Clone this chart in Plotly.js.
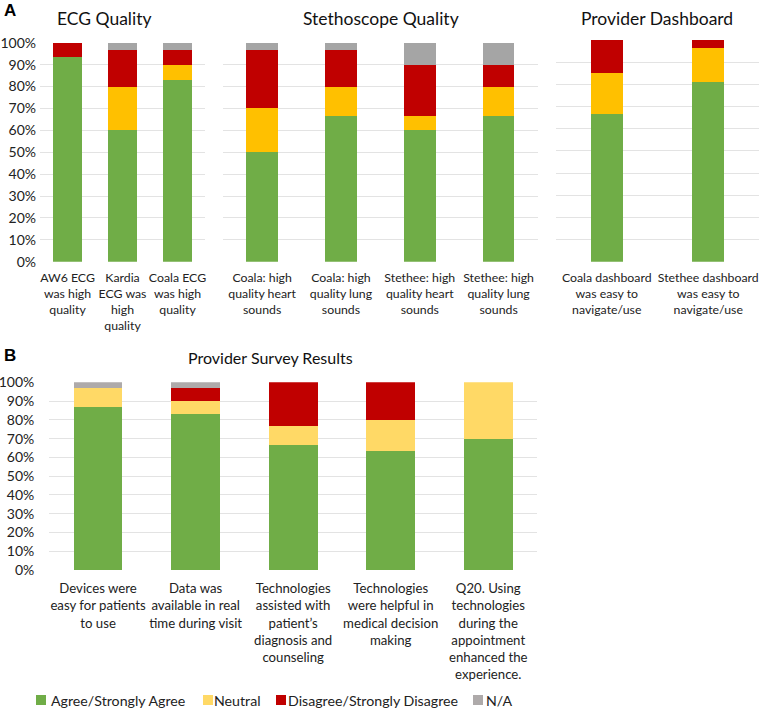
<!DOCTYPE html>
<html>
<head>
<meta charset="utf-8">
<script src="https://cdn.plot.ly/plotly-3.0.1.min.js"></script>
<style>html,body{margin:0;padding:0;background:#fff;}#chart{width:759px;height:709px;}</style>
</head>
<body>
<div id="chart"></div>
<script>
// ---- Data (percent) ----
const seriesNames = ["Agree/Strongly Agree", "Neutral", "Disagree/Strongly Disagree", "N/A"];

const ecgCategories = ["AW6 ECG<br>was high<br>quality", "Kardia<br>ECG was<br>high<br>quality", "Coala ECG<br>was high<br>quality"];
const ecgAgree = [93.3, 60.0, 82.8];
const ecgNeutral = [0, 20.0, 6.9];
const ecgDisagree = [6.7, 16.7, 6.9];
const ecgNA = [0, 3.3, 3.4];

const stethCategories = ["Coala: high<br>quality heart<br>sounds", "Coala: high<br>quality lung<br>sounds", "Stethee: high<br>quality heart<br>sounds", "Stethee: high<br>quality lung<br>sounds"];
const stethAgree = [50.0, 66.7, 60.0, 66.7];
const stethNeutral = [20.0, 13.3, 6.7, 13.3];
const stethDisagree = [26.7, 16.7, 23.3, 10.0];
const stethNA = [3.3, 3.3, 10.0, 10.0];

const dashCategories = ["Coala dashboard<br>was easy to<br>navigate/use", "Stethee dashboard<br>was easy to<br>navigate/use"];
const dashAgree = [66.7, 81.0];
const dashNeutral = [18.5, 15.3];
const dashDisagree = [14.8, 3.7];
const dashNA = [0, 0];

const surveyCategories = ["Devices were<br>easy for patients<br>to use", "Data was<br>available in real<br>time during visit", "Technologies<br>assisted with<br>patient’s<br>diagnosis and<br>counseling", "Technologies<br>were helpful in<br>medical decision<br>making", "Q20. Using<br>technologies<br>during the<br>appointment<br>enhanced the<br>experience."];
const surveyAgree = [86.7, 83.3, 66.7, 63.3, 70.0];
const surveyNeutral = [10.0, 6.7, 10.0, 16.7, 30.0];
const surveyDisagree = [0, 6.7, 23.3, 20.0, 0];
const surveyNA = [3.3, 3.3, 0, 0, 0];

const panelTitles = ["ECG Quality", "Stethoscope Quality", "Provider Dashboard", "Provider Survey Results"];

// ---- Styles ----
const colorsA = ["#70AD47", "#FFC000", "#C00000", "#A5A5A5"];
const colorsB = ["#70AD47", "#FFD966", "#C00000", "#AEAAAA"];
const FONT = "Lato";
const W = 759, H = 709;
const px = v => v / W;
const py = v => 1 - v / H;
const legendSquareX = [36, 203, 276, 473];
const legendTextX = [49, 212, 286, 484];

const traces = [];
function addPanel(cats, vals, colors, xa, ya, width) {
  vals.forEach((v, i) => {
    traces.push({
      type: "bar", x: cats, y: v.map(d => d / 100), name: seriesNames[i],
      marker: {color: colors[i], line: {width: 0}},
      xaxis: xa, yaxis: ya, width: width,
      showlegend: false, hoverinfo: "x+y"
    });
  });
}
addPanel(ecgCategories, [ecgAgree, ecgNeutral, ecgDisagree, ecgNA], colorsA, "x", "y", 0.51);
addPanel(stethCategories, [stethAgree, stethNeutral, stethDisagree, stethNA], colorsA, "x2", "y2", 0.4);
addPanel(dashCategories, [dashAgree, dashNeutral, dashDisagree, dashNA], colorsA, "x3", "y3", 0.32);
addPanel(surveyCategories, [surveyAgree, surveyNeutral, surveyDisagree, surveyNA], colorsB, "x4", "y4", 0.5);

const grid = "#E3E3E3";
function xax(d0, d1, anchor, size, standoff) {
  return {domain: [px(d0), px(d1)], anchor: anchor, type: "category", showgrid: false, zeroline: false, showline: false,
    ticks: "", tickangle: 0, ticklabelstandoff: standoff, tickfont: {family: FONT, size: size, color: "#222"}, fixedrange: true, automargin: false};
}
function yax(y0, y1, anchor, labels, size, standoff) {
  return {domain: [py(y0), py(y1)], anchor: anchor, range: [0, 1], dtick: 0.1, tick0: 0, tickformat: ".0%",
    showticklabels: labels, showgrid: true, gridcolor: grid, gridwidth: 1, zeroline: false, showline: false, ticks: "",
    ticklabelstandoff: standoff,
    tickfont: {family: FONT, size: size, color: "#222"}, fixedrange: true, automargin: false};
}

const annotations = [
  {text: "<b>A</b>", x: px(2), y: py(11), xref: "paper", yref: "paper", xanchor: "left", yanchor: "middle", showarrow: false, font: {family: "Liberation Sans", size: 17, color: "#000"}},
  {text: "<b>B</b>", x: px(2), y: py(355), xref: "paper", yref: "paper", xanchor: "left", yanchor: "middle", showarrow: false, font: {family: "Liberation Sans", size: 17, color: "#000"}},
  {text: panelTitles[0], x: px(104), y: py(19), xref: "paper", yref: "paper", xanchor: "center", yanchor: "middle", showarrow: false, font: {family: FONT, size: 17.5, color: "#111"}},
  {text: panelTitles[1], x: px(381), y: py(19), xref: "paper", yref: "paper", xanchor: "center", yanchor: "middle", showarrow: false, font: {family: FONT, size: 17.5, color: "#111"}},
  {text: panelTitles[2], x: px(657), y: py(19), xref: "paper", yref: "paper", xanchor: "center", yanchor: "middle", showarrow: false, font: {family: FONT, size: 17.5, color: "#111"}},
  {text: panelTitles[3], x: px(270), y: py(357), xref: "paper", yref: "paper", xanchor: "center", yanchor: "middle", showarrow: false, font: {family: FONT, size: 16, color: "#111"}}
];
const shapes = [];
seriesNames.forEach((name, i) => {
  shapes.push({type: "rect", xref: "paper", yref: "paper", x0: px(legendSquareX[i]), x1: px(legendSquareX[i] + 10),
    y0: py(705), y1: py(695), fillcolor: colorsB[i], line: {width: 0}});
  annotations.push({text: name, x: px(legendTextX[i]), y: py(700), xref: "paper", yref: "paper", xanchor: "left", yanchor: "middle",
    showarrow: false, font: {family: FONT, size: 14.2, color: "#222"}});
});

const layout = {
  width: W, height: H, margin: {l: 0, r: 0, t: 0, b: 0}, paper_bgcolor: "#fff", plot_bgcolor: "#fff",
  barmode: "stack", showlegend: false,
  font: {family: FONT, color: "#222"},
  xaxis: xax(40, 205, "y", 12.3, 7),
  yaxis: yax(261.7, 42.7, "x", true, 14, 3),
  xaxis2: xax(222.7, 538, "y2", 12.3, 7),
  yaxis2: yax(261.7, 42.7, "x2", false, 14, 3),
  xaxis3: xax(556, 759, "y3", 12.3, 7),
  yaxis3: yax(261.7, 40, "x3", false, 14, 3),
  xaxis4: xax(49.3, 537, "y4", 13.2, 9),
  yaxis4: yax(570, 382.3, "x4", true, 14, 14),
  annotations: annotations,
  shapes: shapes
};

Plotly.newPlot("chart", traces, layout, {displayModeBar: false, staticPlot: true});
</script>
</body>
</html>
